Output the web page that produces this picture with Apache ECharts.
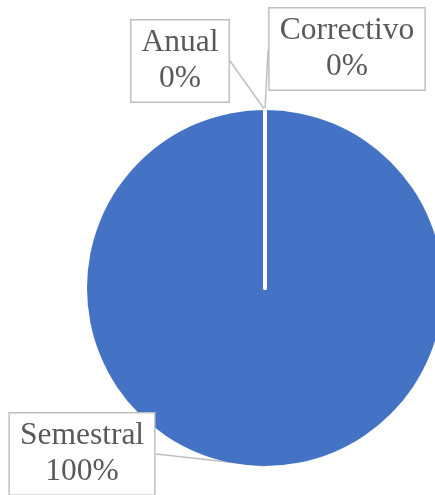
<!DOCTYPE html>
<html>
<head>
<meta charset="utf-8">
<script src="https://cdn.jsdelivr.net/npm/echarts@6/dist/echarts.min.js"></script>
<style>
html,body{margin:0;padding:0;background:#fff;}
#chart{width:435px;height:495px;}
</style>
</head>
<body>
<div id="chart"></div>
<script>
var categories = ['Semestral', 'Anual', 'Correctivo'];
var values = [100, 0, 0];

var labelPos = {
  Anual: [180, 59],
  Correctivo: [347, 47],
  Semestral: [82, 452]
};

var chart = echarts.init(document.getElementById('chart'), null, {renderer: 'canvas'});
var data = categories.map(function (c, i) {
  return {
    name: c,
    value: values[i],
    itemStyle: values[i] === 0 ? {borderColor: '#ffffff', borderWidth: 4} : {}
  };
});
chart.setOption({
  animation: false,
  backgroundColor: '#ffffff',
  series: [{
    type: 'pie',
    center: [265, 288],
    radius: [0, 178],
    startAngle: 90,
    clockwise: true,
    avoidLabelOverlap: false,
    silent: true,
    itemStyle: {color: '#4472C4'},
    label: {
      show: true,
      formatter: function (p) { return p.name + '\n' + Math.round(p.percent) + '%'; },
      fontFamily: '"Liberation Serif", "Times New Roman", serif',
      fontSize: 31.5,
      lineHeight: 36,
      color: '#595959',
      backgroundColor: '#ffffff',
      borderColor: '#BFBFBF',
      borderWidth: 1.5,
      padding: [8, 10, 1, 10],
      align: 'center'
    },
    labelLine: {
      show: true,
      length: 0,
      length2: 0,
      lineStyle: {color: '#BFBFBF', width: 1.5}
    },
    labelLayout: function (p) {
      var pos = labelPos[categories[p.dataIndex]];
      return {x: pos[0], y: pos[1] + 2, align: 'center', verticalAlign: 'middle'};
    },
    data: data
  }]
});
</script>
</body>
</html>
